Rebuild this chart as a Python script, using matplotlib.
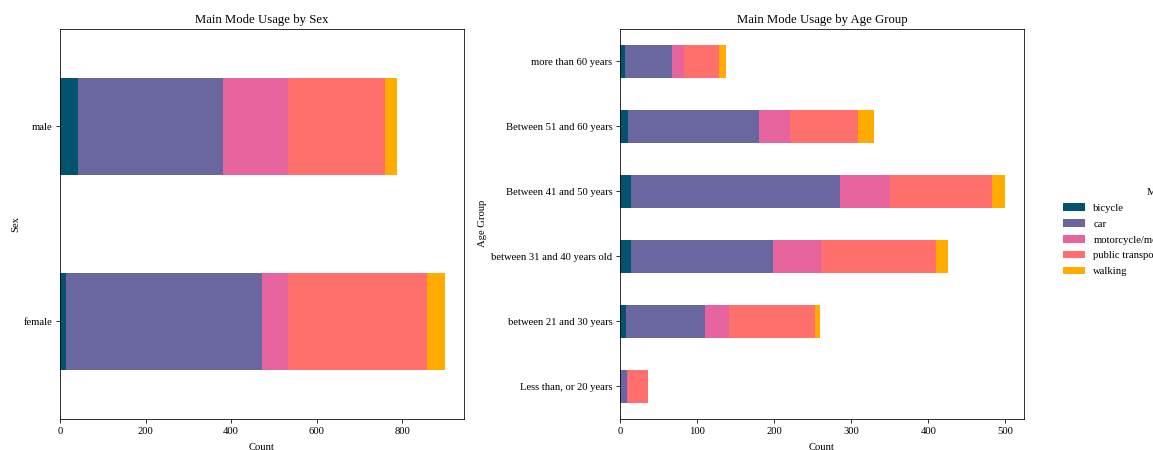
import numpy as np
import matplotlib
matplotlib.use("Agg")
import matplotlib.pyplot as plt

plt.rcParams['font.family'] = ['Liberation Serif', 'DejaVu Serif']
plt.rcParams['font.size'] = 10.67

modes = ["bicycle", "car", "motorcycle/moped", "public transport", "walking"]
colors = ["#02546e", "#6a67a0", "#e6649e", "#ff6f6b", "#ffab00"]

sex_groups = ["female", "male"]
sex_counts = {
    "bicycle": [13, 41],
    "car": [459, 341],
    "motorcycle/moped": [62, 152],
    "public transport": [324, 226],
    "walking": [41, 27],
}

age_groups = ["Less than, or 20 years", "between 21 and 30 years",
              "between 31 and 40 years old", "Between 41 and 50 years",
              "Between 51 and 60 years", "more than 60 years"]
age_counts = {
    "bicycle": [0, 8, 15, 14, 10, 7],
    "car": [9, 103, 184, 272, 170, 61],
    "motorcycle/moped": [1, 31, 62, 64, 40, 15],
    "public transport": [26, 111, 149, 133, 89, 45],
    "walking": [0, 6, 15, 16, 20, 10],
}


def stacked_barh(ax, cats, counts):
    y = np.arange(len(cats))
    left = np.zeros(len(cats))
    for m, c in zip(modes, colors):
        vals = np.array(counts[m], dtype=float)
        ax.barh(y, vals, height=0.5, left=left, color=c, label=m)
        left += vals
    ax.set_yticks(y)
    ax.set_yticklabels(cats)
    ax.set_ylim(-0.5, len(cats) - 0.5)
    ax.set_xlim(0, left.max() * 1.05)
    ax.tick_params(length=3.8)
    ax.tick_params(axis="x", pad=4.5)


fig, (ax1, ax2) = plt.subplots(1, 2, figsize=(1153 / 72, 450 / 72), dpi=72)
fig.subplots_adjust(left=0.052, right=0.888, bottom=0.069, top=0.936, wspace=0.386)

stacked_barh(ax1, sex_groups, sex_counts)
ax1.set_title("Main Mode Usage by Sex")
ax1.set_xlabel("Count", labelpad=6.5)
ax1.set_ylabel("Sex")

stacked_barh(ax2, age_groups, age_counts)
ax2.set_title("Main Mode Usage by Age Group")
ax2.set_xlabel("Count", labelpad=6.5)
ax2.set_ylabel("Age Group")

# legend sits outside the plot, cut off by the figure edge like the original
ax2.legend(loc="center left", bbox_to_anchor=(1.074, 0.459), frameon=False,
           labelspacing=0.6, handlelength=2.0, handletextpad=0.8)
fig.text(1147 / 1153, 1 - 192.5 / 450, "Main Mode", ha="left", va="center")

fig.savefig("out.png", dpi=72)
